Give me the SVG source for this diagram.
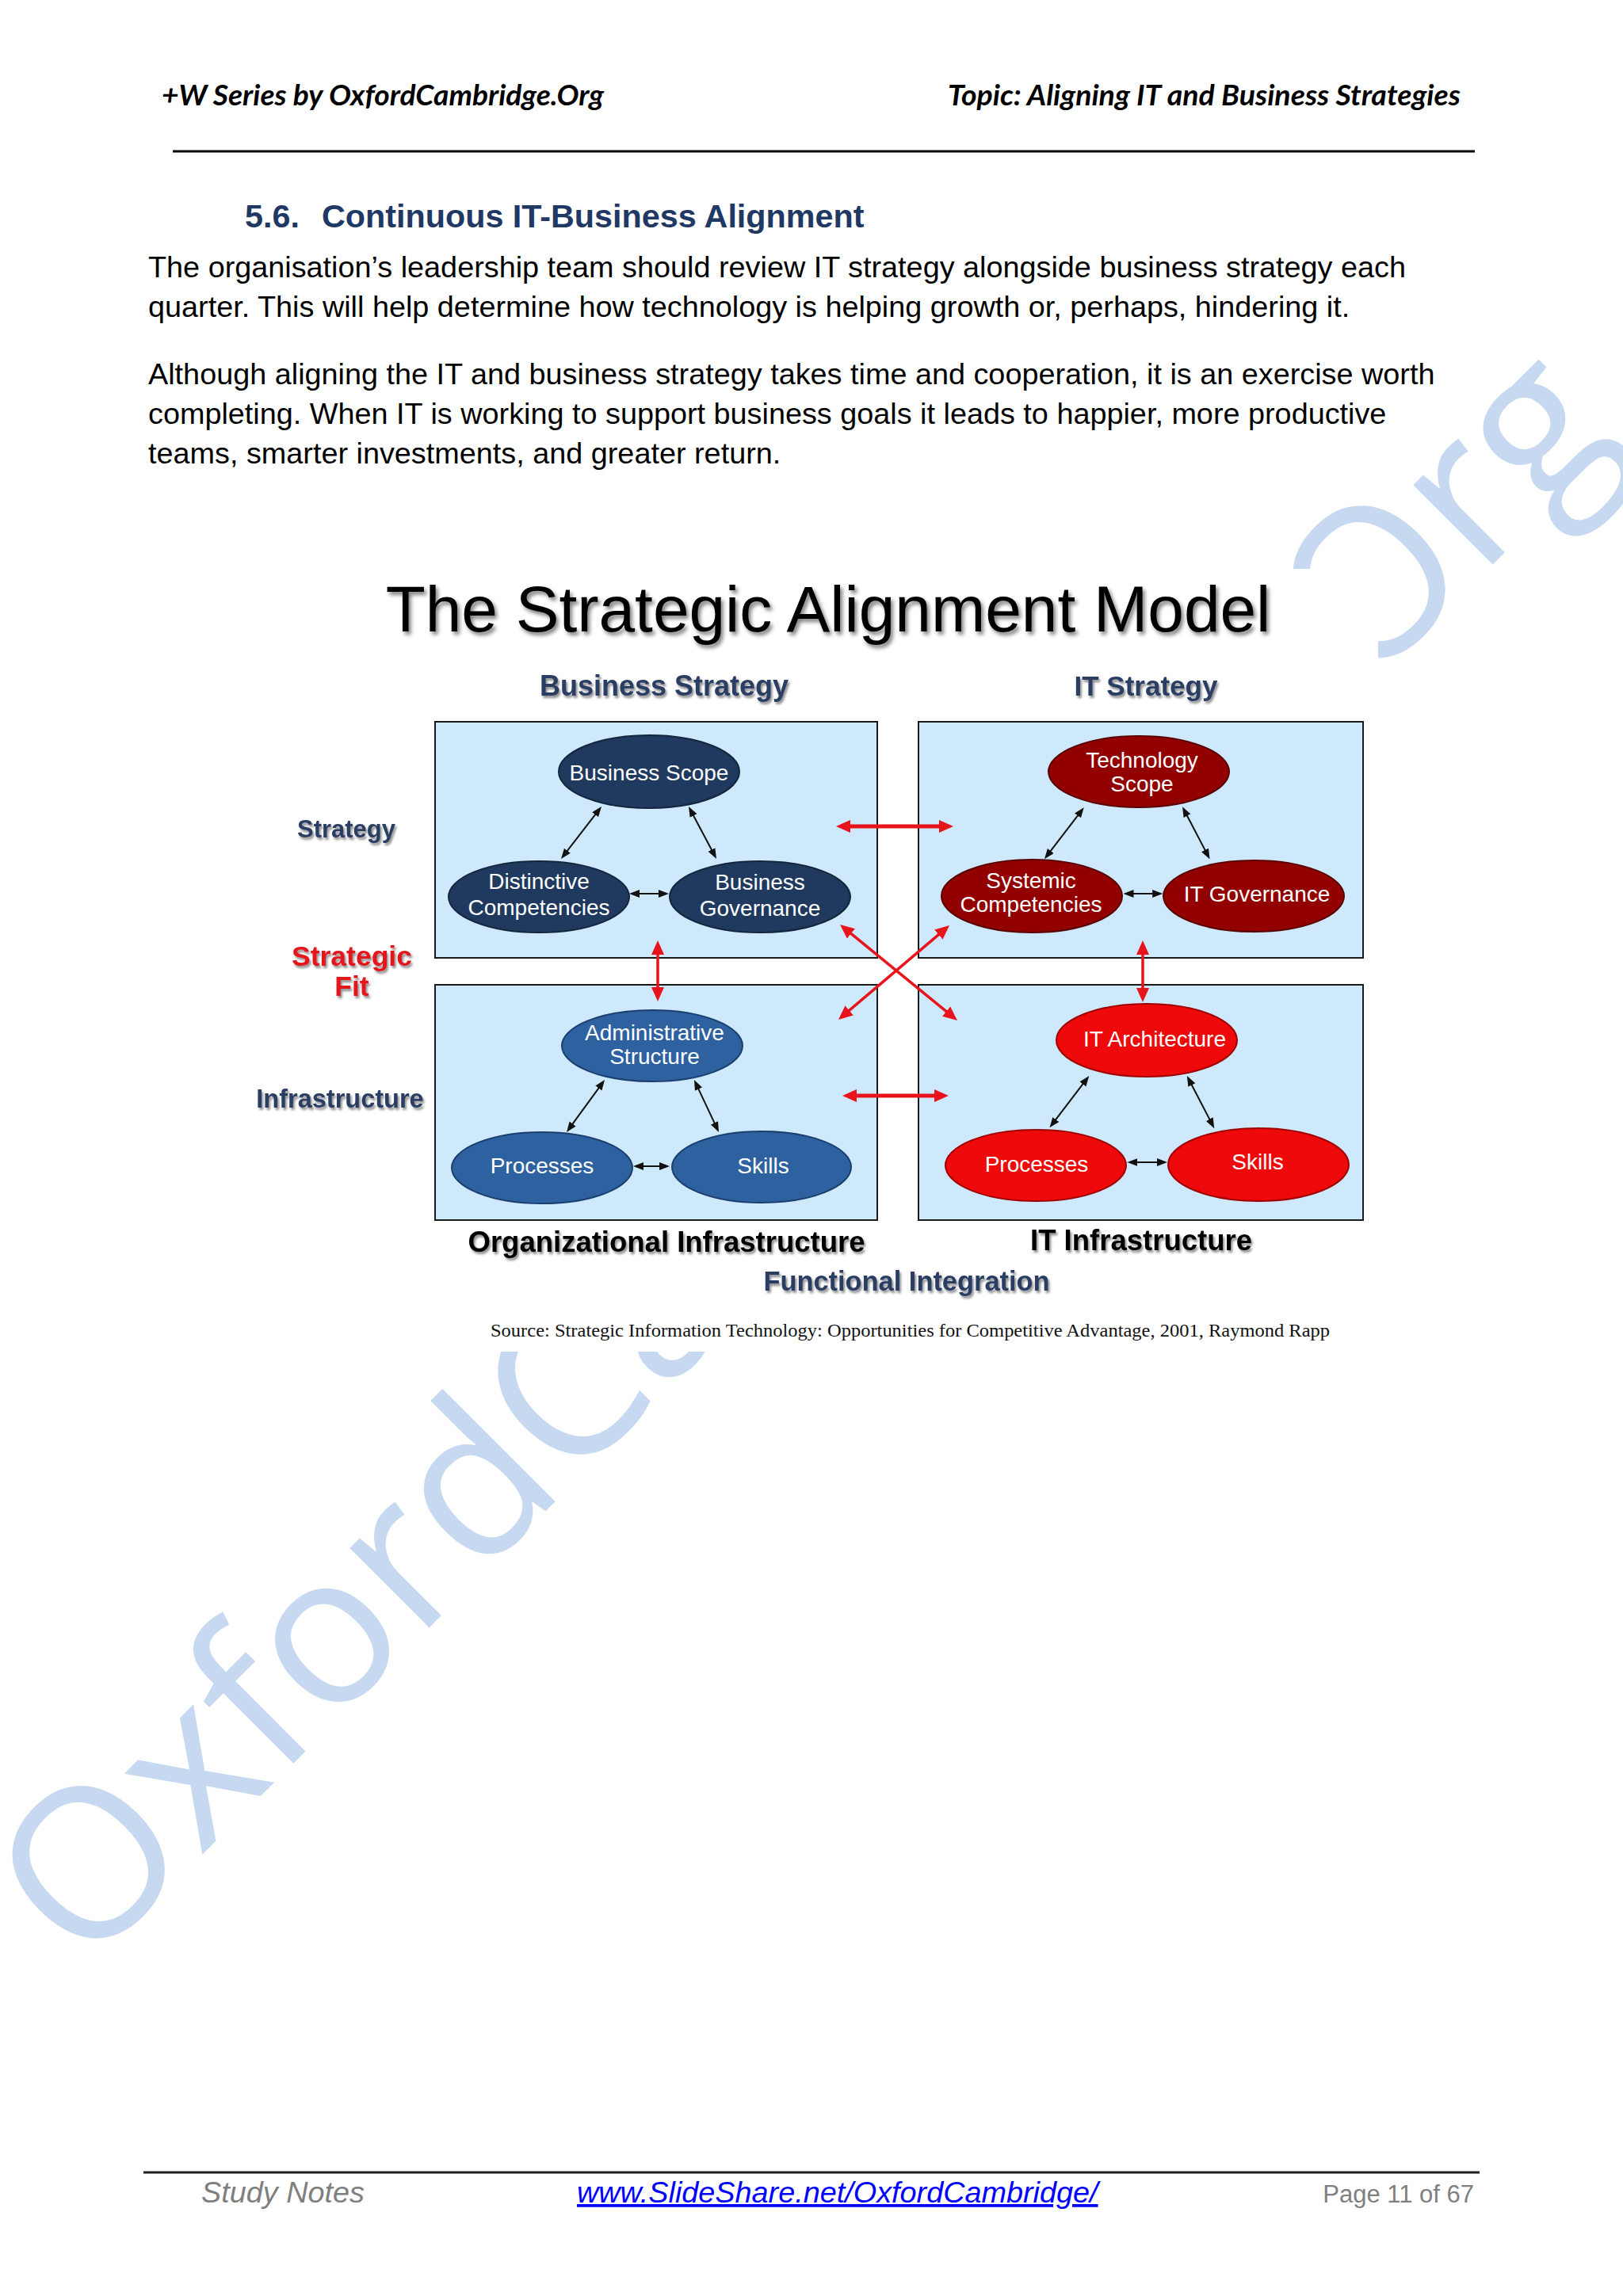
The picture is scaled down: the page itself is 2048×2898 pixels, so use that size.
<svg xmlns="http://www.w3.org/2000/svg" width="2048" height="2898" viewBox="0 0 2048 2898">
<defs>
<style>
.body{font-family:"Liberation Sans",Arial,sans-serif;font-size:37.8px;fill:#000}
.hdr{font-family:Lato,"Liberation Sans",sans-serif;font-weight:bold;font-style:italic;font-size:36px;fill:#000}
.h2{font-family:"Liberation Sans",Arial,sans-serif;font-weight:bold;font-size:41.3px;fill:#1F3864}
.wm{font-family:"Open Sans",sans-serif;font-size:265px;fill:#C6D9F0}
.box{fill:#CDE9FB;stroke:#1a1a1a;stroke-width:2}
.nt{font-family:"Liberation Sans",Arial,sans-serif;font-size:28px;fill:#fff;text-anchor:middle}
.lab{font-family:"Liberation Sans",Arial,sans-serif;font-weight:bold;text-anchor:middle}
.navy{fill:#2B3C63}
.red{fill:#E3121B}
.blk{fill:#000}
.n1{fill:#203A5F;stroke:#14253E;stroke-width:2}
.n2{fill:#2E61A0;stroke:#1B3F6E;stroke-width:2}
.n3{fill:#930000;stroke:#5A0000;stroke-width:2}
.n4{fill:#EE0A0A;stroke:#A00000;stroke-width:2}
.ba{stroke:#111;stroke-width:2;fill:none;marker-start:url(#ah);marker-end:url(#ah)}
.ra{stroke:#E8141C;fill:none;marker-start:url(#rh);marker-end:url(#rh)}
.foot{font-family:"Liberation Sans",Arial,sans-serif;font-size:37.8px}
.pg{font-family:"Liberation Sans",Arial,sans-serif;font-size:31px;fill:#808080;text-anchor:end}
</style>
<marker id="ah" markerUnits="userSpaceOnUse" markerWidth="14" markerHeight="12" viewBox="0 0 14 12" refX="4" refY="5" orient="auto-start-reverse"><path d="M0,0 L13,5 L0,10 z" fill="#111"/></marker>
<marker id="rh" markerUnits="userSpaceOnUse" markerWidth="19" markerHeight="17" viewBox="0 0 19 17" refX="6" refY="8" orient="auto-start-reverse"><path d="M0,0 L18,8 L0,16 z" fill="#E8141C"/></marker>
<filter id="sh" x="-10%" y="-40%" width="120%" height="180%"><feDropShadow dx="2" dy="3" stdDeviation="1.5" flood-color="#000" flood-opacity="0.45"/></filter>
<filter id="sh2" x="-10%" y="-40%" width="120%" height="180%"><feDropShadow dx="3" dy="4" stdDeviation="2.5" flood-color="#000" flood-opacity="0.5"/></filter>
</defs>

<rect x="0" y="0" width="2048" height="2898" fill="#fff"/>

<!-- watermark -->
<text class="wm" transform="translate(106,2490) rotate(-45)">OxfordCambridge.Org</text>

<!-- page header -->
<g id="header">
<text class="hdr" x="204" y="133" textLength="558" lengthAdjust="spacingAndGlyphs">+W Series by OxfordCambridge.Org</text>
<text class="hdr" x="1196" y="133" textLength="647" lengthAdjust="spacingAndGlyphs">Topic: Aligning IT and Business Strategies</text>
<line x1="218" y1="191" x2="1861" y2="191" stroke="#000" stroke-width="3"/>
</g>

<g id="section">
<text class="h2" x="309" y="287">5.6.</text>
<text class="h2" x="406" y="287">Continuous IT-Business Alignment</text>
<text class="body" x="187" y="350">The organisation’s leadership team should review IT strategy alongside business strategy each</text>
<text class="body" x="187" y="400">quarter. This will help determine how technology is helping growth or, perhaps, hindering it.</text>
<text class="body" x="187" y="485">Although aligning the IT and business strategy takes time and cooperation, it is an exercise worth</text>
<text class="body" x="187" y="535">completing. When IT is working to support business goals it leads to happier, more productive</text>
<text class="body" x="187" y="585">teams, smarter investments, and greater return.</text>
</g>

<!-- diagram image background -->
<rect x="300" y="718" width="1439" height="988" fill="#fff"/>

<g id="diagram-title">
<text class="blk" filter="url(#sh2)" x="1045" y="797" text-anchor="middle" font-family="Liberation Sans, Arial, sans-serif" font-size="82">The Strategic Alignment Model</text>
</g>

<g id="axis-labels" filter="url(#sh)">
<text class="lab navy" x="838" y="878" font-size="36">Business Strategy</text>
<text class="lab navy" x="1446" y="878" font-size="35">IT Strategy</text>
<text class="lab navy" x="437" y="1057" font-size="31">Strategy</text>
<text class="lab red" x="444" y="1219" font-size="35.5">Strategic</text>
<text class="lab red" x="444" y="1257" font-size="35.5">Fit</text>
<text class="lab navy" x="429" y="1398" font-size="32.5">Infrastructure</text>
<text class="lab blk" x="841" y="1580" font-size="36.5">Organizational Infrastructure</text>
<text class="lab blk" x="1440" y="1578" font-size="36.5">IT Infrastructure</text>
<text class="lab navy" x="1144" y="1629" font-size="34.4">Functional Integration</text>
</g>

<g id="boxes">
<rect id="box-business-strategy" class="box" x="549" y="911" width="558" height="298"/>
<rect id="box-it-strategy" class="box" x="1159" y="911" width="561" height="298"/>
<rect id="box-org-infrastructure" class="box" x="549" y="1243" width="558" height="297"/>
<rect id="box-it-infrastructure" class="box" x="1159" y="1243" width="561" height="297"/>
</g>

<g id="connectors">
<line class="ba" x1="753.5" y1="1025.1" x2="713.5" y2="1076.9"/>
<line class="ba" x1="873.2" y1="1026" x2="899.8" y2="1076"/>
<line class="ba" x1="803" y1="1128" x2="835" y2="1128"/>
<line class="ba" x1="757.7" y1="1370.3" x2="720.3" y2="1421.7"/>
<line class="ba" x1="879.8" y1="1371.1" x2="903.2" y2="1420.9"/>
<line class="ba" x1="808" y1="1472" x2="836" y2="1472"/>
<line class="ba" x1="1362.3" y1="1026.3" x2="1323.4" y2="1077.2"/>
<line class="ba" x1="1496.2" y1="1026.2" x2="1522.4" y2="1076.4"/>
<line class="ba" x1="1426.5" y1="1128" x2="1458.2" y2="1128"/>
<line class="ba" x1="1368.8" y1="1365.2" x2="1329.9" y2="1416.1"/>
<line class="ba" x1="1502" y1="1366" x2="1528.1" y2="1416.2"/>
<line class="ba" x1="1431.4" y1="1467" x2="1464" y2="1467"/>
<line class="ra" stroke-width="5" x1="1067" y1="1043" x2="1191" y2="1043"/>
<line class="ra" stroke-width="5" x1="1075" y1="1383" x2="1185" y2="1383"/>
<line class="ra" stroke-width="3.5" x1="830" y1="1199" x2="830" y2="1252"/>
<line class="ra" stroke-width="3.5" x1="1442" y1="1199" x2="1442" y2="1253"/>
<line class="ra" stroke-width="3.5" x1="1069.3" y1="1174.6" x2="1198.7" y2="1280.4"/>
<line class="ra" stroke-width="3.5" x1="1188.9" y1="1175.8" x2="1067.1" y2="1279.2"/>
</g>

<g id="node-business-scope"><ellipse class="n1" cx="819" cy="974" rx="114" ry="46"/><text class="nt" x="819" y="985">Business Scope</text></g>
<g id="node-distinctive-competencies"><ellipse class="n1" cx="680" cy="1132" rx="114" ry="45"/><text class="nt" x="680" y="1122">Distinctive</text><text class="nt" x="680" y="1155">Competencies</text></g>
<g id="node-business-governance"><ellipse class="n1" cx="959" cy="1132" rx="114" ry="45"/><text class="nt" x="959" y="1123">Business</text><text class="nt" x="959" y="1156">Governance</text></g>
<g id="node-administrative-structure"><ellipse class="n2" cx="823" cy="1320" rx="114" ry="45"/><text class="nt" x="826" y="1313">Administrative</text><text class="nt" x="826" y="1343">Structure</text></g>
<g id="node-processes-org"><ellipse class="n2" cx="684" cy="1474" rx="114" ry="45"/><text class="nt" x="684" y="1481">Processes</text></g>
<g id="node-skills-org"><ellipse class="n2" cx="961" cy="1473" rx="113" ry="45"/><text class="nt" x="963" y="1481">Skills</text></g>
<g id="node-technology-scope"><ellipse class="n3" cx="1437" cy="974" rx="114" ry="45"/><text class="nt" x="1441" y="969">Technology</text><text class="nt" x="1441" y="999">Scope</text></g>
<g id="node-systemic-competencies"><ellipse class="n3" cx="1302" cy="1131" rx="114" ry="46"/><text class="nt" x="1301" y="1121">Systemic</text><text class="nt" x="1301" y="1151">Competencies</text></g>
<g id="node-it-governance"><ellipse class="n3" cx="1582" cy="1131" rx="114" ry="45"/><text class="nt" x="1586" y="1138">IT Governance</text></g>
<g id="node-it-architecture"><ellipse class="n4" cx="1447" cy="1313" rx="114" ry="46"/><text class="nt" x="1457" y="1321">IT Architecture</text></g>
<g id="node-processes-it"><ellipse class="n4" cx="1307" cy="1471" rx="114" ry="45"/><text class="nt" x="1308" y="1479">Processes</text></g>
<g id="node-skills-it"><ellipse class="n4" cx="1588" cy="1470" rx="114" ry="46"/><text class="nt" x="1587" y="1476">Skills</text></g>

<g id="source">
<text x="619" y="1687" font-family="Liberation Serif, Times New Roman, serif" font-size="23" fill="#111" textLength="1059" lengthAdjust="spacingAndGlyphs">Source: Strategic Information Technology: Opportunities for Competitive Advantage, 2001, Raymond Rapp</text>
</g>

<g id="footer">
<line x1="181" y1="2742" x2="1867" y2="2742" stroke="#222" stroke-width="3"/>
<text class="foot" x="254" y="2780" font-style="italic" fill="#7F7F7F">Study Notes</text>
<text class="foot" x="728" y="2780" font-style="italic" fill="#0000FF" text-decoration="underline">www.SlideShare.net/OxfordCambridge/</text>
<text class="pg" x="1860" y="2780">Page 11 of 67</text>
</g>
</svg>
